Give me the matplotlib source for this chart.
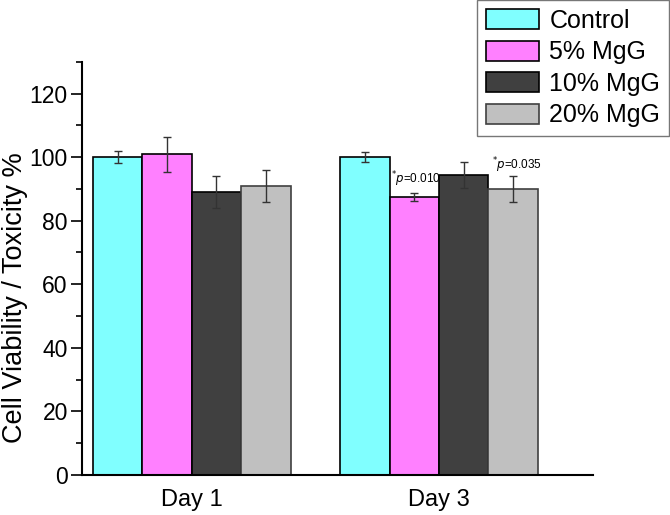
import numpy as np
import matplotlib
matplotlib.use('Agg')
from matplotlib import pyplot as plt

plt.rcParams['font.family'] = ['Liberation Sans', 'DejaVu Sans']

# data
days = ['Day 1', 'Day 3']
groups = ['Control', '5% MgG', '10% MgG', '20% MgG']
control = [100.0, 100.0]
mgg5 = [100.9, 87.4]
mgg10 = [89.0, 94.5]
mgg20 = [91.0, 90.0]
control_err = [2.0, 1.6]
mgg5_err = [5.5, 1.2]
mgg10_err = [5.0, 4.1]
mgg20_err = [5.1, 4.2]

colors = ['#80FFFF', '#FF80FF', '#404040', '#C0C0C0']
edges = ['#000000', '#000000', '#000000', '#404040']

fig = plt.figure(figsize=(6.7, 5.15), dpi=100)
ax = fig.add_axes([0.122, 0.078, 0.763, 0.802])

x = np.arange(len(days))
w = 0.2
series = [control, mgg5, mgg10, mgg20]
errs = [control_err, mgg5_err, mgg10_err, mgg20_err]
offsets = [-1.5, -0.5, 0.5, 1.5]

for i in range(4):
    ax.bar(x + offsets[i] * w, series[i], w, color=colors[i], edgecolor=edges[i],
           linewidth=1.2, label=groups[i], zorder=2)
    ax.errorbar(x + offsets[i] * w, series[i], yerr=errs[i], fmt='none',
                ecolor='#333333', elinewidth=1.0, capsize=3, capthick=1.0, zorder=3)

# p-value notes over day 3 bars
ax.text(x[1] + offsets[1] * w - w / 2 + 0.005, mgg5[1] + 5.7, '$^{*}$$\\it{p}$=0.010',
        fontsize=8.5, ha='left', va='center')
ax.text(x[1] + offsets[3] * w + 0.015, mgg20[1] + mgg20_err[1] + 3.1, '$^{*}$$\\it{p}$=0.035',
        fontsize=8.5, ha='center', va='center')

ax.set_xlim(-0.445, 1.623)
ax.set_ylim(0, 130)
ax.set_xticks(x)
ax.set_xticklabels(days, fontsize=17)
ax.tick_params(axis='x', length=0, pad=10)
ax.set_yticks(np.arange(0, 121, 20))
ax.set_yticks(np.arange(10, 131, 20), minor=True)
ax.tick_params(axis='y', which='major', direction='out', length=8, width=1.2, labelsize=16.5, pad=2)
ax.tick_params(axis='y', which='minor', direction='out', length=4, width=1.2)
ax.set_ylabel('Cell Viability / Toxicity %', fontsize=19.5)
ax.yaxis.set_label_coords(-0.105, 0.428)

for s in ['top', 'right']:
    ax.spines[s].set_visible(False)
for s in ['left', 'bottom']:
    ax.spines[s].set_linewidth(1.5)

leg = fig.legend(loc='upper right', bbox_to_anchor=(669 / 670, 1.0), fontsize=18,
                 frameon=True, fancybox=False, handlelength=2.15, handleheight=0.85,
                 labelspacing=0.3, handletextpad=0.4, borderpad=0.35, borderaxespad=0)
leg.get_frame().set_edgecolor('#555555')
leg.get_frame().set_linewidth(1.0)

plt.savefig('out.png', dpi=100)
plt.close()
